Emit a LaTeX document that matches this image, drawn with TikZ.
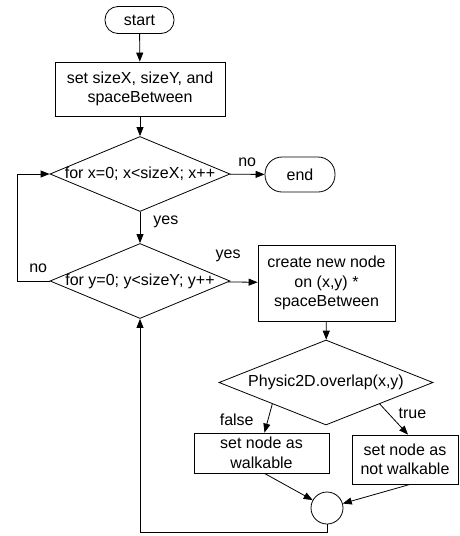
\documentclass[tikz,border=0pt]{standalone}
\usepackage{fontspec}
\setmainfont{Liberation Sans}
\usetikzlibrary{arrows.meta,shapes.geometric}

\begin{document}
\begin{tikzpicture}[x=1pt,y=-1pt,
      >={Triangle[length=9pt,width=7pt]},
      line width=0.8pt,
      font=\fontsize{16}{19.5}\selectfont,
      term/.style={draw,rounded corners=13pt,minimum width=69pt,minimum height=27pt,inner sep=0pt},
      proc/.style={draw,align=center,inner sep=0pt},
      decide/.style={draw,diamond,inner sep=0pt},
      lbl/.style={inner sep=0pt}]
    \useasboundingbox (0,0) rectangle (459,536);
    \node[term] (start) at (139.5,20) {start};
    \node[proc,minimum width=170pt,minimum height=54pt] (init) at (140,89)
      {set sizeX, sizeY, and\\ spaceBetween};
    \node[decide,minimum width=180pt,minimum height=75pt] (forx) at (140,174)
      {\makebox[0pt]{for x=0; x<sizeX; x++}};
    \node[term,minimum width=70pt,minimum height=35pt,rounded corners=17pt] (stop) at (300,174.5) {end};
    \node[decide,minimum width=180pt,minimum height=75pt] (fory) at (140,281)
      {\makebox[0pt]{for y=0; y<sizeY; y++}};
    \node[proc,minimum width=137pt,minimum height=76pt] (create) at (326.5,283)
      {create new node\\ on (x,y) *\\ spaceBetween};
    \node[decide,minimum width=214pt,minimum height=85pt] (overlap) at (326,382.5)
      {\makebox[0pt]{Physic2D.overlap(x,y)}};
    \node[proc,minimum width=135pt,minimum height=40pt] (walk) at (261.5,453)
      {set node as\\ walkable};
    \node[proc,minimum width=106pt,minimum height=49pt] (notwalk) at (405,459.5)
      {set node as\\ not walkable};
    \node[draw,circle,minimum size=32pt,inner sep=0pt] (merge) at (327,508) {};
    \coordinate (xloop) at (17,227);
    \coordinate (yloop) at (140,532);
    \draw[->] (start) -- (init);
    \draw[->] (init) -- (forx);
    \draw[->] (forx) -- node[lbl,above=7pt]{no} (stop);
    \draw[->] (forx) -- node[lbl,pos=0.33,right=13pt]{yes} (fory);
    \draw[->] (fory) -- node[lbl,pos=0,above=20pt]{yes} (create);
    \draw[->] (fory.west) -- node[lbl,pos=0.35,above=8pt]{no} (fory.west -| xloop)
      -- (forx.west -| xloop) -- (forx.west);
    \draw[->] (create) -- (overlap);
    \draw[->] (overlap.south west) -- node[lbl,pos=0.55,left=14pt]{false} ([xshift=3pt]walk.north);
    \draw[->] (overlap.south east) -- node[lbl,pos=0.3,right=10pt]{true} ([xshift=3pt]notwalk.north);
    \draw[->] ([xshift=3pt]walk.south) -- (merge);
    \draw[->] ([xshift=5pt]notwalk.south) -- (merge);
    \draw[->] (merge.south) |- (yloop) -- (fory.south);
  \end{tikzpicture}
\end{document}
